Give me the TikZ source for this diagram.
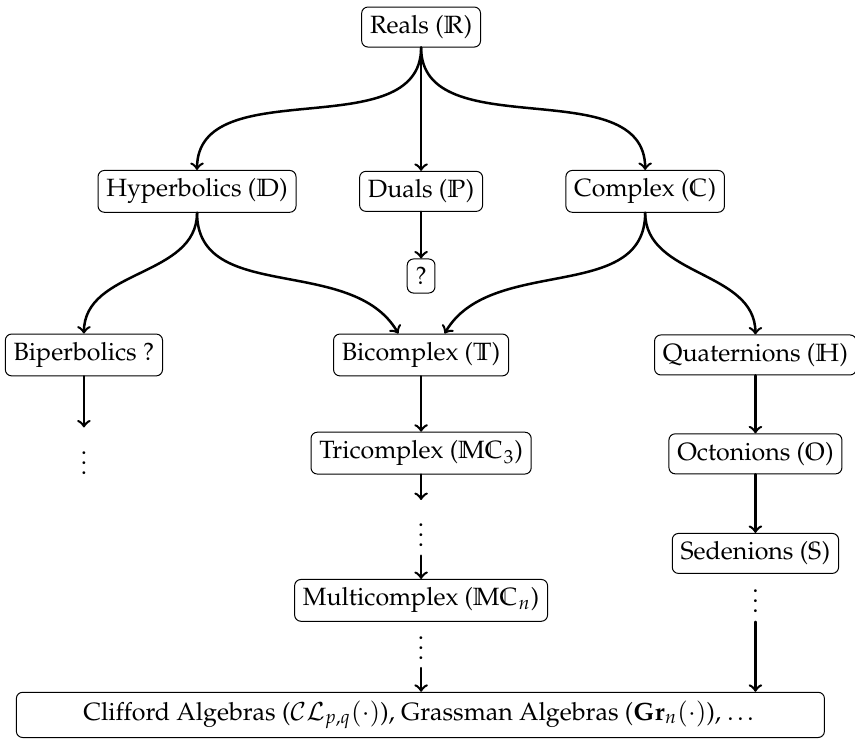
\documentclass[tikz,border=0pt]{standalone}
\usepackage[T1]{fontenc}
\usepackage{mathpazo}
\begin{document}
\begin{tikzpicture}[line join=round, line cap=round, >=to]

	\tikzset{box/.style={draw, thin, rounded corners=2.5pt}}
	\tikzset{arr/.style={->, line width=1pt}}

	\useasboundingbox (0,0) rectangle (12.02,-10.38);

	\node[box] (reals) at (5.92,-0.38) {Reals ($\mathbb{R}$)};
	\node[box] (hyp) at (2.77,-2.69) {Hyperbolics ($\mathbb{D}$)};
	\node[box] (duals) at (5.92,-2.69) {Duals ($\mathbb{P}$)};
	\node[box] (cplx) at (9.07,-2.69) {Complex ($\mathbb{C}$)};
	\node[box] (unk) at (5.92,-3.88) {?};
	\node[box] (biper) at (1.18,-4.99) {Biperbolics ?};
	\node[box] (bic) at (5.92,-4.99) {Bicomplex ($\mathbb{T}$)};
	\node[box] (quat) at (10.62,-4.99) {Quaternions ($\mathbb{H}$)};
	\node[box] (tri) at (5.92,-6.37) {Tricomplex ($\mathbb{MC}_3$)};
	\node[box] (oct) at (10.62,-6.38) {Octonions ($\mathbb{O}$)};
	\node[box] (sed) at (10.62,-7.78) {Sedenions ($\mathbb{S}$)};
	\node[box] (multi) at (5.92,-8.44) {Multicomplex ($\mathbb{MC}_n$)};
	\node[box, minimum width=11.36cm] (cliff) at (5.91,-10.05)
		{Clifford Algebras ($\mathcal{CL}_{p,q}(\cdot)$), Grassman Algebras ($\mathbf{Gr}_n(\cdot)$), \dots};

	\node (dotsL) at (1.18,-6.40) {$\vdots$};
	\node (dotsMa) at (5.92,-7.42) {$\vdots$};
	\node (dotsMb) at (5.92,-9.00) {$\vdots$};
	\node (dotsR) at (10.62,-8.35) {$\vdots$};

	\draw[arr] (reals.south) to[out=-90,in=90] (hyp.north);
	\draw[arr] (reals.south) -- (duals.north);
	\draw[arr] (reals.south) to[out=-90,in=90] (cplx.north);
	\draw[arr] (duals.south) -- (unk.north);
	\draw[arr] (hyp.south) to[out=-90,in=90] (biper.north);
	\draw[arr] (hyp.south) to[out=-90,in=120] ([xshift=-0.32cm]bic.north);
	\draw[arr] (cplx.south) to[out=-90,in=60] ([xshift=0.33cm]bic.north);
	\draw[arr] (cplx.south) to[out=-90,in=90] (quat.north);
	\draw[arr] (biper) -- (dotsL);
	\draw[arr] (bic) -- (tri);
	\draw[arr] (tri) -- (dotsMa);
	\draw[arr] (dotsMa) -- (multi);
	\draw[arr] (dotsMb.south) -- (dotsMb.south |- cliff.north);
	\draw[arr] (quat) -- (oct);
	\draw[arr] (oct) -- (sed);
	\draw[arr] (dotsR.south) -- (dotsR.south |- cliff.north);
\end{tikzpicture}
\end{document}
